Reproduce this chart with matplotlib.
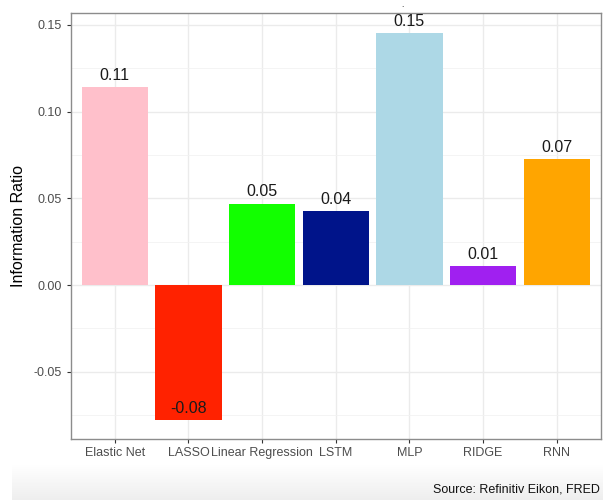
import numpy as np
import matplotlib
matplotlib.use("Agg")
import matplotlib.pyplot as plt
from matplotlib.ticker import FixedLocator

plt.rcParams['font.family'] = ['Liberation Sans', 'DejaVu Sans']

models = ["Elastic Net", "LASSO", "Linear Regression", "LSTM", "MLP", "RIDGE", "RNN"]
info_ratio = [0.114, -0.078, 0.047, 0.0425, 0.1455, 0.011, 0.0725]
bar_colors = ["#ffc0cb", "#ff2200", "#12ff00", "#00148a", "#add8e6", "#a020f0", "#ffa500"]
value_labels = ["0.11", "-0.08", "0.05", "0.04", "0.15", "0.01", "0.07"]

W, H = 603, 500
fig = plt.figure(figsize=(W / 100, H / 100), dpi=100)

# soft grey strip along the bottom edge
band = fig.add_axes([12 / W, 0, 1 - 12 / W, 35 / H])
grad = np.linspace(0, 1, 64).reshape(-1, 1)
band.imshow(grad, aspect='auto', cmap=matplotlib.colors.LinearSegmentedColormap.from_list(
    "band", ["#ffffff", "#eeeeee"]), extent=[0, 1, 0, 1], origin='upper')
band.set_axis_off()

left, right, top, bottom = 70.5, 601, 13, 439
ax = fig.add_axes([left / W, 1 - bottom / H, (right - left) / W, (bottom - top) / H])

x = np.arange(len(models))
ax.bar(x, info_ratio, width=0.9, color=bar_colors, zorder=3)

for xi, v, lab in zip(x, info_ratio, value_labels):
    ax.annotate(lab, (xi, v), xytext=(0, 3), textcoords='offset points',
                ha='center', va='bottom', fontsize=11.5, color='#1a1a1a', zorder=4)

ax.set_xlim(-0.6, len(models) - 0.4)
ax.set_ylim(-0.0888, 0.1569)

ax.yaxis.set_major_locator(FixedLocator([-0.05, 0.0, 0.05, 0.10, 0.15]))
ax.yaxis.set_minor_locator(FixedLocator([-0.075, -0.025, 0.025, 0.075, 0.125]))
ax.set_yticklabels(["-0.05", "0.00", "0.05", "0.10", "0.15"])
ax.set_xticks(x)
ax.set_xticklabels(models)

ax.grid(which='major', color='#ebebeb', linewidth=1.0, zorder=0)
ax.grid(which='minor', axis='y', color='#f2f2f2', linewidth=0.6, zorder=0)
ax.set_axisbelow(True)

ax.tick_params(axis='both', which='major', length=3, width=0.8, color='#333333',
               labelsize=9, labelcolor='#4d4d4d', pad=3)
ax.tick_params(axis='both', which='minor', length=0)
for s in ax.spines.values():
    s.set_color('#8c8c8c')
    s.set_linewidth(1.0)

ax.set_ylabel("Information Ratio", fontsize=11.5, color='black', labelpad=6)

fig.text(402 / W, 1 - 7 / H, ".", ha='center', va='baseline', fontsize=6, color='black')
fig.text(600 / W, 1 - 490 / H, "Source: Refinitiv Eikon, FRED", ha='right', va='center',
         fontsize=9, color='#111111')

fig.savefig("out.png", dpi=100)
